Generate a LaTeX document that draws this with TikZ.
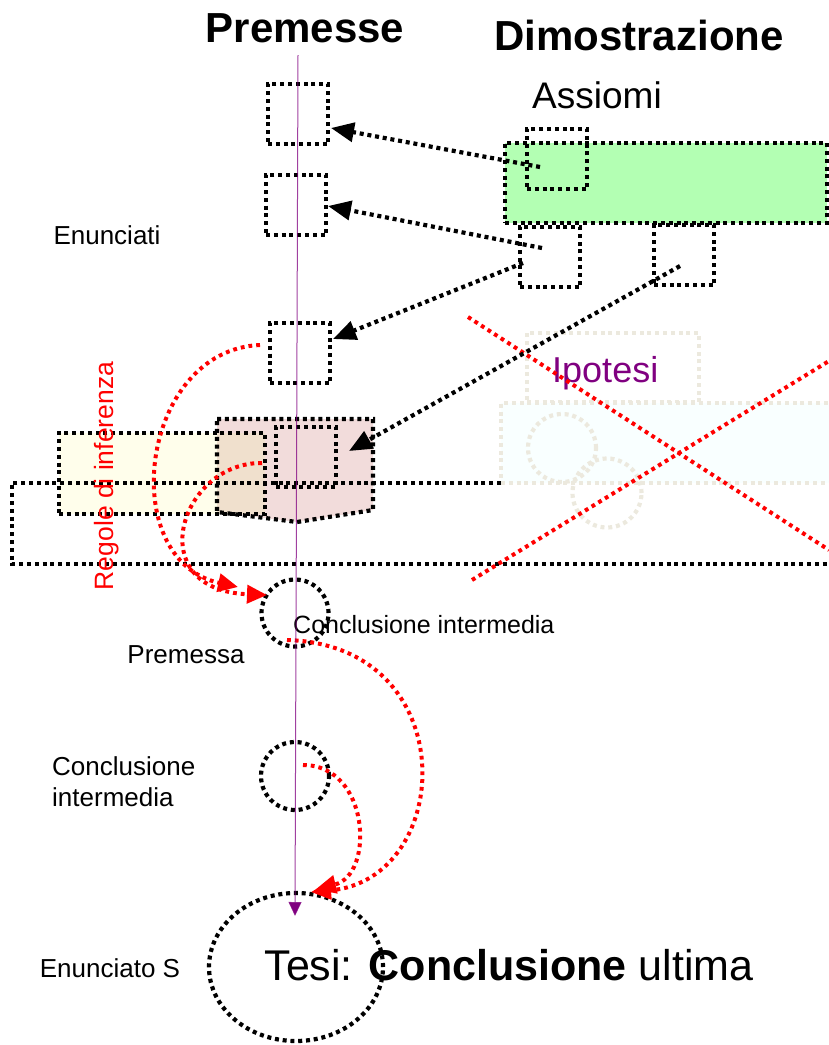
\documentclass[tikz,border=0pt]{standalone}
\usepackage{fontspec}
\setmainfont{Liberation Sans}
\usetikzlibrary{arrows.meta,shapes.geometric}
\definecolor{greenfill}{RGB}{179,255,179}
\definecolor{yelfill}{RGB}{255,254,235}
\definecolor{pinkfill}{RGB}{242,220,219}
\definecolor{tanfill}{RGB}{240,224,205}
\definecolor{cyanfill}{RGB}{249,255,255}
\definecolor{fadec}{RGB}{236,233,222}
\definecolor{purp}{RGB}{128,0,128}
\definecolor{redc}{RGB}{255,0,0}
\tikzset{
  dots/.style={line width=4.2pt, dash pattern=on 4pt off 3.8pt},
  blk/.style={dots, draw=black},
  sq/.style={blk, rectangle, minimum width=60pt, minimum height=60pt, inner sep=0pt},
  circ/.style={blk, circle, minimum size=67pt, inner sep=0pt},
  reddots/.style={dots, draw=redc, line width=4pt, dash pattern=on 3.8pt off 4pt},
  blkarrow/.style={blk, -{Triangle[length=23pt,width=19pt]}},
  redarrow/.style={reddots, -{Triangle[length=20pt,width=18pt]}},
  faded/.style={dots, draw=fadec},
  lbl/.style={font=\fontsize{26}{32}\selectfont, inner sep=0pt},
  big/.style={font=\fontsize{42}{50}\selectfont\bfseries, inner sep=0pt},
}
\begin{document}
\begin{tikzpicture}[x=1pt,y=-1pt]
\useasboundingbox (0,0) rectangle (829,1045);

% faded hypothesis area
\node[faded, rectangle, minimum width=172pt, minimum height=69pt, inner sep=0pt] (ipbox) at (613,367.5) {};
\node[faded, fill=cyanfill, rectangle, minimum width=334pt, minimum height=80pt, inner sep=0pt] (ipback) at (668,443) {};
\node[faded, circle, minimum size=68pt, inner sep=0pt] (fc1) at (562,448) {};
\node[faded, circle, minimum size=69pt, inner sep=0pt] (fc2) at (607,493) {};

% green axioms box
\node[blk, fill=greenfill, rectangle, minimum width=322pt, minimum height=80pt, inner sep=0pt] (assi) at (666,183) {};
\node[sq] (sa) at (557,159) {};
\node[sq] (sb) at (550,257) {};
\node[sq] (sc) at (684,255) {};

% statement squares
\node[sq] (s1) at (298,114) {};
\node[sq] (s2) at (296,205) {};
\node[sq] (s3) at (300,353) {};

% inference rules area fills
\fill[pinkfill] (217,419) -- (373,419) -- (373,510) -- (297,522) -- (217,512) -- cycle;
\fill[yelfill] (59,433) rectangle (265,514);
\begin{scope}
  \clip (217,419) -- (373,419) -- (373,510) -- (297,522) -- (217,512) -- cycle;
  \fill[tanfill] (59,433) rectangle (265,514);
\end{scope}

% big open rectangle
\draw[blk] (501,483) -- (12,483) -- (12,564) -- (840,564);

% borders
\node[blk, rectangle, minimum width=206pt, minimum height=81pt, inner sep=0pt] (yel) at (162,473.5) {};
\draw[blk] (217,419) -- (373,419) -- (373,510) -- (297,522) -- (217,512) -- cycle;
\node[sq] (sd) at (306,457) {};

% conclusion circles
\node[circ] (c1) at (295,613) {};
\node[circ, minimum size=68pt] (c2) at (295,776) {};
\node[blk, ellipse, minimum width=174pt, minimum height=148pt, inner sep=0pt] (tesi) at (296,967) {};

% texts
\node[big, anchor=base] (tprem) at (305,42) {Premesse};
\node[big, anchor=base] (tdim) at (639,50) {Dimostrazione};
\node[font=\fontsize{37}{44}\selectfont, inner sep=0pt, anchor=base] (tass) at (597,108) {Assiomi};
\node[font=\fontsize{36}{44}\selectfont, inner sep=0pt, anchor=base west, text=purp] (tip) at (552,382) {Ipotesi};
\node[lbl, anchor=base] (tenun) at (107,244) {Enunciati};
\node[lbl, anchor=base, rotate=90, text=redc, font=\fontsize{26.5}{32}\selectfont] (treg) at (113,476) {Regole di inferenza};
\node[lbl, anchor=base west, font=\fontsize{25}{30}\selectfont] (tci) at (293,633) {Conclusione intermedia};
\node[lbl, anchor=base] (tpremessa) at (186,663) {Premessa};
\node[lbl, anchor=base west] (tci2) at (52,775) {Conclusione};
\node[lbl, anchor=base west] (tci3) at (52,806) {intermedia};
\node[lbl, anchor=base] (tenS) at (110,977) {Enunciato S};
\node[font=\fontsize{43}{50}\selectfont, inner sep=0pt, anchor=base] (ttesi) at (509,980) {Tesi: \textbf{Conclusione} ultima};

% crossing-out lines
\coordinate (x1a) at (468,317);
\coordinate (x1b) at (829,550);
\coordinate (x2a) at (472,580);
\coordinate (x2b) at (829,361);
\draw[reddots] (x1a) -- (x1b);
\draw[reddots] (x2a) -- (x2b);

% black arrows
\coordinate (a1s) at (540,167); \coordinate (a1e) at (331,128);
\coordinate (a2s) at (542,248); \coordinate (a2e) at (328,206);
\coordinate (a3s) at (523,263); \coordinate (a3e) at (333,339);
\coordinate (a4s) at (680,266); \coordinate (a4e) at (349,451);
\draw[blkarrow] (a1s) -- (a1e);
\draw[blkarrow] (a2s) -- (a2e);
\draw[blkarrow] (a3s) -- (a3e);
\draw[blkarrow] (a4s) -- (a4e);

% red inference arrows
\coordinate (r1s) at (260,345); \coordinate (r1e) at (238,587);
\coordinate (r2s) at (262,463); \coordinate (r2e) at (267,595);
\coordinate (r3s) at (287,640); \coordinate (r3e) at (311,892);
\coordinate (r4s) at (303,765); \coordinate (r4e) at (316,889);
\draw[redarrow] (r1s) .. controls (140,350) and (115,560) .. (r1e);
\draw[redarrow] (r2s) .. controls (180,462) and (140,590) .. (r2e);
\draw[redarrow] (r3s) .. controls (465,645) and (455,880) .. (r3e);
\draw[redarrow] (r4s) .. controls (370,765) and (375,875) .. (r4e);

% purple main line
\coordinate (ptop) at (298,55);
\coordinate (pend) at (295,916);
\draw[purp, line width=1pt, draw opacity=0.75, -{Triangle[length=14pt,width=13pt]}] (ptop) -- (pend);
\end{tikzpicture}
\end{document}
